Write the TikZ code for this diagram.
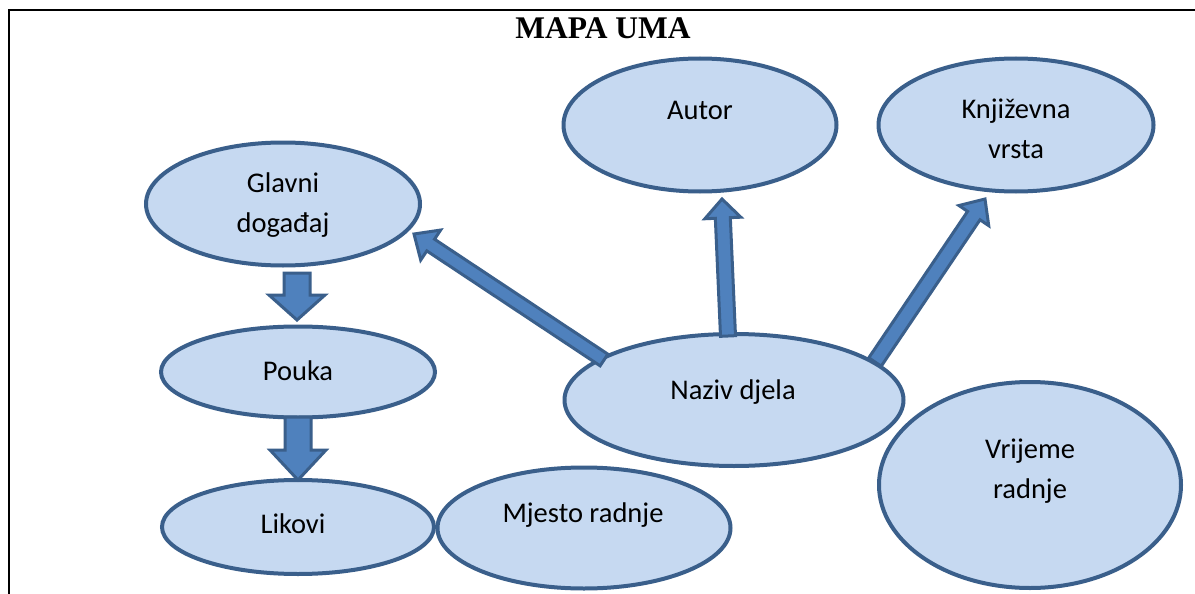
\documentclass[tikz,border=0pt]{standalone}
\usepackage{fontspec}
\setmainfont{Carlito}
\newfontfamily\titlefont{Liberation Serif}
\usetikzlibrary{shapes.geometric,calc}
\definecolor{ellfill}{RGB}{198,217,241}
\definecolor{ellline}{RGB}{58,95,139}
\definecolor{arrfill}{RGB}{79,129,189}
\tikzset{
  bubble/.style={ellipse, draw=ellline, fill=ellfill, line width=4pt, inner sep=0pt},
  lbl/.style={font=\fontsize{28.5}{40}\selectfont, anchor=base, align=center, inner sep=0pt},
  blockarr/.style={draw=ellline, fill=arrfill, line width=3pt, line join=miter},
  frameline/.style={line width=2pt, black},
}
% #1 tail, #2 tip, #3 shaft half width, #4 head half width, #5 head length
\newcommand{\blockarrow}[5]{%
  \coordinate (ba-c) at ($(#2)!#5!(#1)$);
  \draw[blockarr] ($(#1)!#3!90:(#2)$) -- ($(ba-c)!#3!-90:(#1)$) -- ($(ba-c)!#4!-90:(#1)$)
    -- (#2) -- ($(ba-c)!#4!90:(#1)$) -- ($(ba-c)!#3!90:(#1)$) -- ($(#1)!#3!-90:(#2)$) -- cycle;}
\begin{document}
\begin{tikzpicture}[x=1pt,y=-1pt]
\useasboundingbox (0,0) rectangle (1195,594);
\fill[white] (0,0) rectangle (1195,594);
\draw[frameline] (1195,10) -- (9,10) -- (9,594);
\node[font=\titlefont\bfseries\fontsize{31.5}{36}\selectfont, anchor=base, inner sep=0pt] (title) at (603,39) {MAPA UMA};

% ellipses
\node[bubble, minimum width=274pt, minimum height=123pt] (glavni) at (283,204) {};
\node[bubble, minimum width=273pt, minimum height=133pt] (autor) at (700,125) {};
\node[bubble, minimum width=275pt, minimum height=133pt] (knjiz) at (1016,125) {};
\node[bubble, minimum width=274pt, minimum height=91pt] (pouka) at (298,372) {};
\node[bubble, minimum width=272pt, minimum height=94pt] (likovi) at (298,527) {};
\node[bubble, minimum width=339pt, minimum height=132pt] (naziv) at (734,400) {};
\node[bubble, minimum width=293pt, minimum height=121pt] (mjesto) at (584,528) {};
\node[bubble, minimum width=302pt, minimum height=206pt] (vrijeme) at (1030,485) {};

% labels (base = baseline of the last line)
\node[lbl] (tglavni) at (283,232) {Glavni\\događaj};
\node[lbl] (tautor) at (700,120) {Autor};
\node[lbl] (tknjiz) at (1016,158) {Književna\\vrsta};
\node[lbl] (tpouka) at (298,380) {Pouka};
\node[lbl] (tlikovi) at (293,533) {Likovi};
\node[lbl] (tnaziv) at (733,399) {Naziv djela};
\node[lbl] (tmjesto) at (583,522) {Mjesto radnje};
\node[lbl] (tvrijeme) at (1030,498) {Vrijeme\\radnje};

% arrow end points
\coordinate (a1s) at (297,273);
\coordinate (a1e) at (297,320);
\coordinate (a2s) at (298,417);
\coordinate (a2e) at (298,480);
\coordinate (a3s) at (604,360);
\coordinate (a3e) at (414,234);
\coordinate (a4s) at (728,336);
\coordinate (a4e) at (722,199);
\coordinate (a5s) at (875,362);
\coordinate (a5e) at (985,199);

\blockarrow{a1s}{a1e}{13pt}{28pt}{25pt}
\blockarrow{a2s}{a2e}{13pt}{28pt}{30pt}
\blockarrow{a3s}{a3e}{7pt}{18pt}{20pt}
\blockarrow{a4s}{a4e}{7.5pt}{18pt}{19pt}
\blockarrow{a5s}{a5e}{7.5pt}{18pt}{20pt}
\end{tikzpicture}
\end{document}
